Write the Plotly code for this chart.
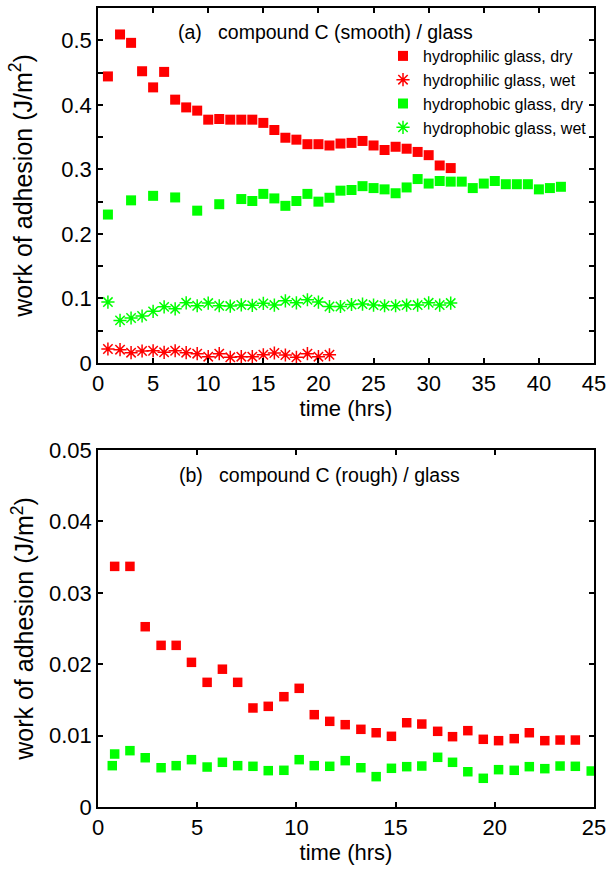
import plotly.graph_objects as go
from plotly.subplots import make_subplots

# ---------------- data: panel (a) compound C (smooth) / glass ----------------
t_phil_dry = [0.9, 2, 3, 4, 5, 6, 7, 8, 9, 10, 11, 12, 13, 14, 15, 16, 17, 18, 19, 20,
              21, 22, 23, 24, 25, 26, 27, 28, 29, 30, 31, 32]
w_phil_dry = [0.444, 0.509, 0.496, 0.452, 0.427, 0.451, 0.408, 0.396, 0.391, 0.377,
              0.378, 0.377, 0.377, 0.377, 0.372, 0.361, 0.349, 0.346, 0.339, 0.339,
              0.337, 0.340, 0.341, 0.344, 0.337, 0.330, 0.335, 0.332, 0.327, 0.322,
              0.306, 0.302]

t_phil_wet = [0.9, 2, 3, 4, 5, 6, 7, 8, 9, 10, 11, 12, 13, 14, 15, 16, 17, 18, 19, 20, 21]
w_phil_wet = [0.0217, 0.0206, 0.016, 0.0186, 0.019, 0.0166, 0.019, 0.016, 0.0144, 0.0098,
              0.0144, 0.0088, 0.0098, 0.0098, 0.0128, 0.0155, 0.0124, 0.0088, 0.0144,
              0.0098, 0.0128]

t_phob_dry = [0.9, 3, 5, 7, 9, 11, 13, 14, 15, 16, 17, 18, 19, 20, 21, 22, 23, 24, 25,
              26, 27, 28, 29, 30, 31, 32, 33, 34, 35, 36, 37, 38, 39, 40, 41, 42]
w_phob_dry = [0.230, 0.252, 0.259, 0.2565, 0.236, 0.246, 0.254, 0.251, 0.262, 0.255,
              0.2435, 0.251, 0.262, 0.250, 0.256, 0.267, 0.268, 0.274, 0.271, 0.269,
              0.263, 0.272, 0.285, 0.278, 0.282, 0.281, 0.281, 0.271, 0.278, 0.282,
              0.277, 0.277, 0.277, 0.269, 0.271, 0.273]

t_phob_wet = [0.9, 2, 3, 4, 5, 6, 7, 8, 9, 10, 11, 12, 13, 14, 15, 16, 17, 18, 19, 20,
              21, 22, 23, 24, 25, 26, 27, 28, 29, 30, 31, 32]
w_phob_wet = [0.0944, 0.066, 0.0697, 0.0728, 0.080, 0.087, 0.084, 0.0933, 0.0887, 0.0929,
              0.0887, 0.0882, 0.090, 0.0893, 0.0924, 0.0898, 0.0964, 0.0933, 0.098, 0.0944,
              0.0875, 0.0875, 0.0906, 0.0913, 0.0898, 0.0887, 0.0887, 0.0898, 0.0898,
              0.0933, 0.0898, 0.0929]

# ---------------- data: panel (b) compound C (rough) / glass ----------------
t_b_phil_dry = [0.84, 1.61, 2.38, 3.18, 3.94, 4.71, 5.5, 6.27, 7.04, 7.81, 8.58, 9.37,
                10.14, 10.9, 11.68, 12.46, 13.25, 14.02, 14.79, 15.56, 16.32, 17.12,
                17.87, 18.64, 19.42, 20.19, 20.98, 21.74, 22.52, 23.29, 24.06]
w_b_phil_dry = [0.0337, 0.0337, 0.02525, 0.02264, 0.02264, 0.02026, 0.01746, 0.0193,
                0.01746, 0.01387, 0.0141, 0.01545, 0.01662, 0.01293, 0.012, 0.01153,
                0.01088, 0.0104, 0.0099, 0.0118, 0.01162, 0.0106, 0.00985, 0.01069,
                0.00948, 0.00929, 0.00957, 0.0104, 0.00929, 0.00938, 0.00938]

t_b_phob_dry = [0.72, 0.84, 1.61, 2.38, 3.18, 3.94, 4.71, 5.5, 6.27, 7.04, 7.81, 8.58,
                9.37, 10.14, 10.9, 11.68, 12.46, 13.25, 14.02, 14.79, 15.56, 16.32,
                17.12, 17.87, 18.64, 19.42, 20.19, 20.98, 21.74, 22.52, 23.29, 24.06, 24.86]
w_b_phob_dry = [0.00579, 0.00742, 0.00789, 0.0069, 0.0055, 0.00579, 0.00663, 0.0056,
                0.00626, 0.00579, 0.0057, 0.00509, 0.00514, 0.00663, 0.00579, 0.0057,
                0.00649, 0.0055, 0.00425, 0.00542, 0.00565, 0.00574, 0.00696, 0.00626,
                0.00494, 0.00402, 0.00523, 0.00514, 0.00565, 0.00537, 0.00574, 0.0057,
                0.00504]

# tick labels
a_xticks = [0, 5, 10, 15, 20, 25, 30, 35, 40, 45]
a_yticks = [0, 0.1, 0.2, 0.3, 0.4, 0.5]
a_ylabels = ["0", "0.1", "0.2", "0.3", "0.4", "0.5"]
a_yminor = [0.05, 0.15, 0.25, 0.35, 0.45]
b_xticks = [0, 5, 10, 15, 20, 25]
b_yticks = [0, 0.01, 0.02, 0.03, 0.04, 0.05]
b_ylabels = ["0", "0.01", "0.02", "0.03", "0.04", "0.05"]

RED = "#ff0000"
GREEN = "#00ff00"
FONT = "Liberation Sans, Arial, sans-serif"

W, H = 611, 871
ml, mr, mt, mb = 98, 17, 8, 64
ph = H - mt - mb
def fy(py):
    return (H - mb - py) / ph

fig = make_subplots(rows=2, cols=1)
fig.update_layout(
    yaxis=dict(domain=[fy(363), 1.0]),
    yaxis2=dict(domain=[0.0, fy(450)]),
)

sq_a = dict(symbol="square", size=10, line=dict(width=0))
sq_b = dict(symbol="square", size=9.5, line=dict(width=0))

fig.add_trace(go.Scatter(x=t_phil_dry, y=w_phil_dry, mode="markers", name="hydrophilic glass, dry",
                         marker=dict(color=RED, **sq_a)), row=1, col=1)
fig.add_trace(go.Scatter(x=t_phil_wet, y=w_phil_wet, mode="markers", name="hydrophilic glass, wet",
                         marker=dict(symbol="asterisk-open", size=11, color=RED,
                                     line=dict(color=RED, width=1.5))), row=1, col=1)
fig.add_trace(go.Scatter(x=t_phob_dry, y=w_phob_dry, mode="markers", name="hydrophobic glass, dry",
                         marker=dict(color=GREEN, **sq_a)), row=1, col=1)
fig.add_trace(go.Scatter(x=t_phob_wet, y=w_phob_wet, mode="markers", name="hydrophobic glass, wet",
                         marker=dict(symbol="asterisk-open", size=11, color=GREEN,
                                     line=dict(color=GREEN, width=1.5))), row=1, col=1)

fig.add_trace(go.Scatter(x=t_b_phil_dry, y=w_b_phil_dry, mode="markers", showlegend=False,
                         marker=dict(color=RED, **sq_b)), row=2, col=1)
fig.add_trace(go.Scatter(x=t_b_phob_dry, y=w_b_phob_dry, mode="markers", showlegend=False,
                         marker=dict(color=GREEN, **sq_b)), row=2, col=1)

axis_common = dict(showline=True, linecolor="black", linewidth=1.5, mirror="ticks",
                   ticks="inside", ticklen=5, tickwidth=1.5, tickcolor="black",
                   showgrid=False, zeroline=False, automargin=False,
                   tickfont=dict(size=22, color="black", family=FONT))
xtitle_font = dict(size=22, color="black", family=FONT)
ytitle_font = dict(size=25, color="black", family=FONT)

fig.update_xaxes(range=[0, 45], tickvals=a_xticks, row=1, col=1, **axis_common,
                 title=dict(text="time (hrs)", font=xtitle_font, standoff=2))
fig.update_yaxes(range=[0, 0.55], tickvals=a_yticks, ticktext=a_ylabels, row=1, col=1, **axis_common,
                 minor=dict(tickvals=a_yminor, ticks="inside", ticklen=5,
                            tickwidth=1.5, tickcolor="black", showgrid=False),
                 title=dict(text="work of adhesion (J/m<sup>2</sup>)", font=ytitle_font, standoff=22))
fig.update_xaxes(range=[0, 25], tickvals=b_xticks, row=2, col=1, **axis_common,
                 title=dict(text="time (hrs)", font=xtitle_font, standoff=2))
fig.update_yaxes(range=[0, 0.05], tickvals=b_yticks, ticktext=b_ylabels, row=2, col=1, **axis_common,
                 title=dict(text="work of adhesion (J/m<sup>2</sup>)", font=ytitle_font, standoff=8))

fig.add_annotation(x=7.1, y=0.513, xref="x", yref="y", text="(a)   compound C (smooth) / glass",
                   showarrow=False, xanchor="left", yanchor="middle",
                   font=dict(size=19.5, color="black", family=FONT))
fig.add_annotation(x=3.97, y=0.0465, xref="x2", yref="y2", text="(b)   compound C (rough) / glass",
                   showarrow=False, xanchor="left", yanchor="middle",
                   font=dict(size=19.5, color="black", family=FONT))

fig.update_layout(
    width=W, height=H,
    margin=dict(l=ml, r=mr, t=mt, b=mb, autoexpand=False),
    paper_bgcolor="white", plot_bgcolor="white",
    font=dict(family=FONT, color="black"),
    legend=dict(x=(383 - ml) / (W - ml - mr), y=fy(39), xanchor="left", yanchor="top",
                bgcolor="rgba(0,0,0,0)", borderwidth=0,
                font=dict(size=16, color="black", family=FONT), itemwidth=30),
)

fig.write_html("out.html", config={"displayModeBar": False},
               post_script="document.body.style.margin='0';document.body.style.overflow='hidden';")
